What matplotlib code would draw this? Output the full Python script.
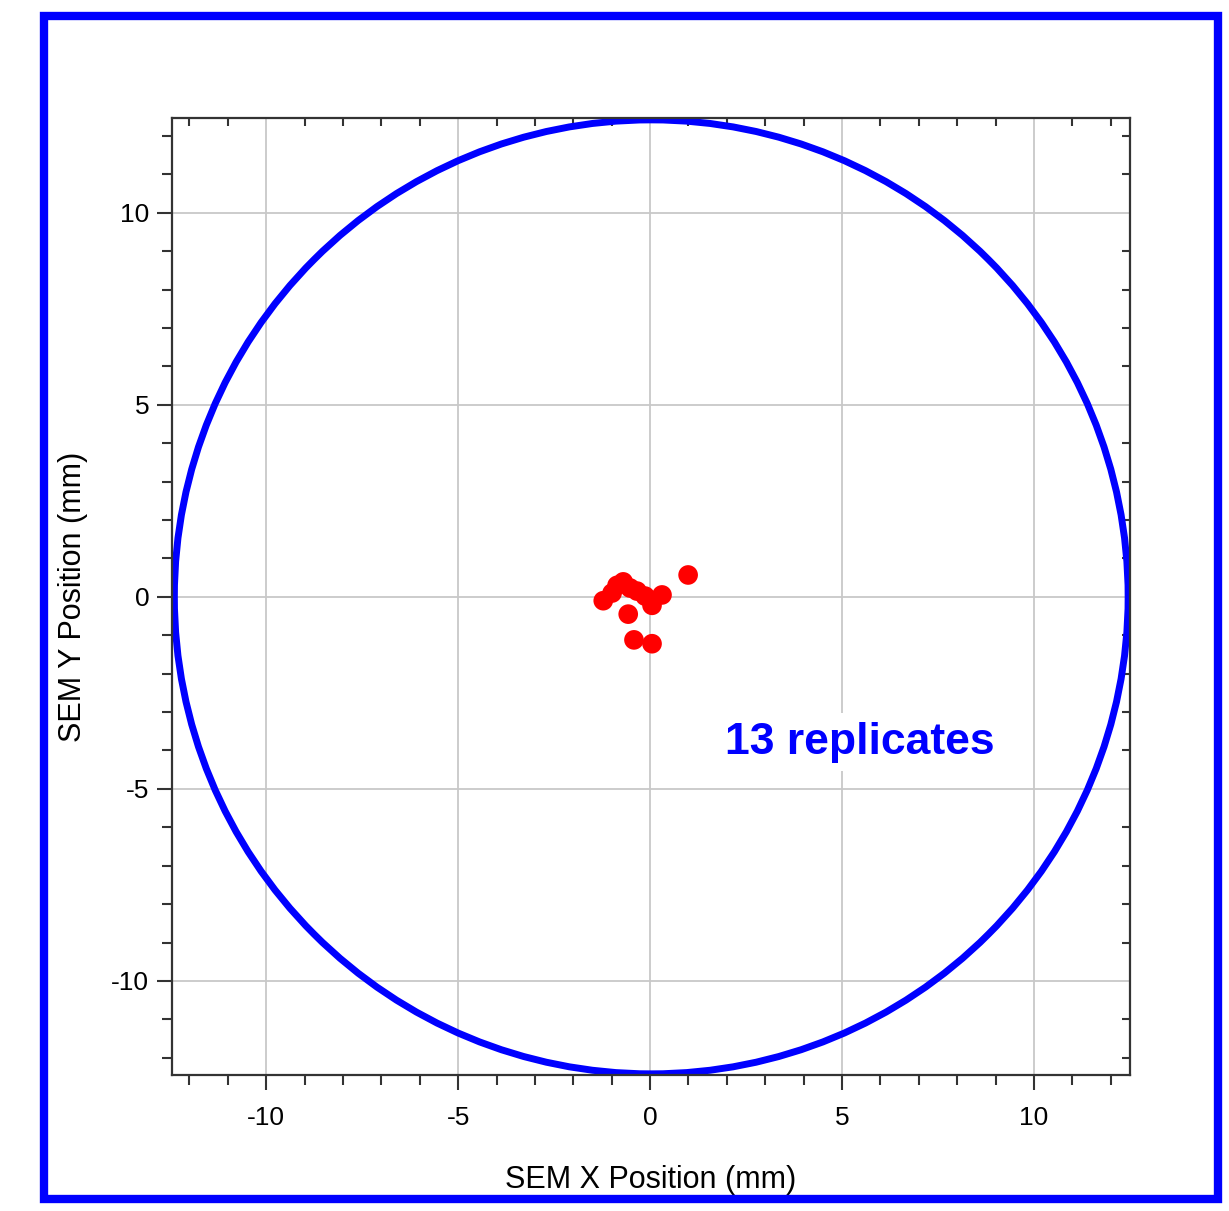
import numpy as np
import matplotlib.pyplot as plt
from matplotlib.patches import Circle, Rectangle
from matplotlib.ticker import MultipleLocator

plt.rcParams['font.family'] = ['Liberation Sans', 'DejaVu Sans']
plt.rcParams['axes.unicode_minus'] = False

# replicate positions (mm)
x_pos = [0.99, -1.22, -0.99, -0.70, -0.52, -0.34, -0.13, 0.05, 0.31, -0.57, -0.42, 0.05, -0.86]
y_pos = [0.57, -0.10, 0.10, 0.39, 0.23, 0.15, 0.02, -0.22, 0.05, -0.45, -1.12, -1.22, 0.30]
radius = 12.42
n_reps = 13

fig = plt.figure(figsize=(12.29, 12.11), dpi=100)
ax = fig.add_axes([0.140, 0.1123, 0.7795, 0.7903])

ax.set_xlim(-12.45, 12.5)
ax.set_ylim(-12.45, 12.47)

ax.xaxis.set_major_locator(MultipleLocator(5))
ax.yaxis.set_major_locator(MultipleLocator(5))
ax.xaxis.set_minor_locator(MultipleLocator(1))
ax.yaxis.set_minor_locator(MultipleLocator(1))

ax.grid(True, which='major', color='#c8c8c8', linewidth=1.3, zorder=0)
ax.set_axisbelow(True)

ax.add_patch(Circle((0.03, 0.0), radius, fill=False, edgecolor='#0000ff', linewidth=5, zorder=2))
ax.scatter(x_pos, y_pos, s=200, color='#ff0000', edgecolors='none', zorder=3)

ax.text(5.45, -3.78, f'{n_reps} replicates', color='#0000ff', fontsize=32, fontweight='bold',
        ha='center', va='center', zorder=4,
        bbox=dict(facecolor='white', edgecolor='none', pad=6))

for s in ax.spines.values():
    s.set_color('#333333')
    s.set_linewidth(1.6)

ax.tick_params(which='major', direction='out', length=10.5, width=1.5, color='#333333',
               labelsize=19, top=False, right=False)
ax.tick_params(axis='x', which='major', pad=12)
ax.tick_params(axis='y', which='major', pad=6)
ax.tick_params(which='minor', direction='out', length=7, width=1.5, color='#333333',
               bottom=True, left=True)
# inward minor ticks on top and right
ax2 = ax.secondary_xaxis('top')
ax2.xaxis.set_major_locator(MultipleLocator(5))
ax2.xaxis.set_minor_locator(MultipleLocator(1))
ax2.tick_params(which='major', length=0, labeltop=False)
ax2.tick_params(which='minor', direction='in', length=6, width=1.5, color='#333333')
ax2.spines['top'].set_visible(False)
ax3 = ax.secondary_yaxis('right')
ax3.yaxis.set_major_locator(MultipleLocator(5))
ax3.yaxis.set_minor_locator(MultipleLocator(1))
ax3.tick_params(which='major', length=0, labelright=False)
ax3.tick_params(which='minor', direction='in', length=6, width=1.5, color='#333333')
ax3.spines['right'].set_visible(False)

ax.set_xlabel('SEM X Position (mm)', fontsize=22, va='center', ha='center')
ax.set_ylabel('SEM Y Position (mm)', fontsize=22, va='center', ha='center')
ax.xaxis.set_label_coords(0.5, -0.1095)
ax.yaxis.set_label_coords(-0.103, 0.50)

# blue frame around the whole figure
fig.patches.append(Rectangle((44 / 1229, 1 - 1199 / 1211), 1174 / 1229, 1183 / 1211,
                             transform=fig.transFigure, fill=False,
                             edgecolor='#0000ff', linewidth=6))

fig.savefig('out.png', dpi=100)
